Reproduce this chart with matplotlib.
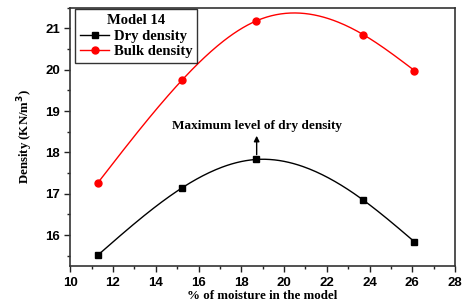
import numpy as np
import matplotlib.pyplot as plt
from matplotlib.ticker import MultipleLocator

# values
moisture = [11.3, 15.25, 18.7, 23.7, 26.1]
dry_density = [15.52, 17.15, 17.83, 16.85, 15.84]
bulk_density = [17.27, 19.76, 21.18, 20.85, 19.98]


# natural cubic spline for the smooth connecting line
def spline(x, y, n=200):
    x = np.asarray(x, float)
    y = np.asarray(y, float)
    k = len(x)
    h = np.diff(x)
    A = np.zeros((k, k))
    b = np.zeros(k)
    A[0, 0] = A[-1, -1] = 1
    for i in range(1, k - 1):
        A[i, i - 1] = h[i - 1]
        A[i, i] = 2 * (h[i - 1] + h[i])
        A[i, i + 1] = h[i]
        b[i] = 6 * ((y[i + 1] - y[i]) / h[i] - (y[i] - y[i - 1]) / h[i - 1])
    m = np.linalg.solve(A, b)
    xs = np.linspace(x[0], x[-1], n)
    idx = np.clip(np.searchsorted(x, xs) - 1, 0, k - 2)
    t0 = x[idx]
    t1 = x[idx + 1]
    hi = h[idx]
    ys = (m[idx] * (t1 - xs) ** 3 / (6 * hi) + m[idx + 1] * (xs - t0) ** 3 / (6 * hi)
          + (y[idx] / hi - m[idx] * hi / 6) * (t1 - xs)
          + (y[idx + 1] / hi - m[idx + 1] * hi / 6) * (xs - t0))
    return xs, ys


serif = 'Liberation Serif'
sans = 'Liberation Sans'

fig, ax = plt.subplots(figsize=(4.62, 3.07), dpi=100)
fig.subplots_adjust(left=0.152, right=0.985, top=0.975, bottom=0.133)

xs, ys = spline(moisture, dry_density)
ax.plot(xs, ys, color='black', lw=1)
ax.plot(moisture, dry_density, 's', color='black', ms=5)
xs, ys = spline(moisture, bulk_density)
ax.plot(xs, ys, color='red', lw=1)
ax.plot(moisture, bulk_density, 'o', color='red', ms=5)

# legend proxies
ax.plot([], [], 's-', color='black', ms=5, lw=1, label='Dry density')
ax.plot([], [], 'o-', color='red', ms=5, lw=1, label='Bulk density')
leg = ax.legend(handles=ax.lines[4:], title='Model 14', loc='upper left',
                bbox_to_anchor=(0.005, 1.005), fancybox=False, edgecolor='black',
                prop={'family': serif, 'weight': 'bold', 'size': 10.5},
                handlelength=2.0, borderpad=0.35, labelspacing=0.15, handletextpad=0.3,
                borderaxespad=0.2)
leg.get_title().set_fontproperties({'family': serif, 'weight': 'bold', 'size': 10.5})
leg.get_frame().set_linewidth(1)

ax.annotate('Maximum level of dry density', xy=(18.72, 17.9), xytext=(18.72, 18.65),
            ha='center', va='center', fontsize=9.5, fontweight='bold', family=serif)
ax.annotate('', xy=(18.72, 18.47), xytext=(18.72, 17.88),
            arrowprops=dict(arrowstyle='-|>', color='black', lw=1, mutation_scale=8))

ax.set_xlim(10, 28)
ax.set_ylim(15.25, 21.5)
ax.xaxis.set_major_locator(MultipleLocator(2))
ax.xaxis.set_minor_locator(MultipleLocator(1))
ax.yaxis.set_major_locator(MultipleLocator(1))
ax.yaxis.set_minor_locator(MultipleLocator(0.5))
ax.tick_params(which='both', direction='out', width=1, colors='#222222')
ax.tick_params(which='major', length=4)
ax.tick_params(which='minor', length=2.5)
for lab in ax.get_xticklabels() + ax.get_yticklabels():
    lab.set_family(sans)
    lab.set_fontweight('bold')
    lab.set_fontsize(9.5)
    lab.set_color('black')
for sp in ax.spines.values():
    sp.set_linewidth(1.2)
    sp.set_color('#333333')

ax.set_xlabel('% of moisture in the model', family=serif, fontweight='bold', fontsize=9.3, labelpad=1)
ax.set_ylabel('Density (KN/m$^\\mathbf{3}$)', family=serif, fontweight='bold', fontsize=9.3, labelpad=7)

plt.savefig('out.png', dpi=100)
